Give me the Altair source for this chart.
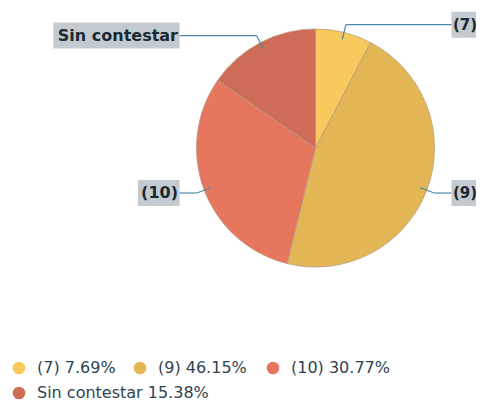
import altair as alt
import pandas as pd

# ---- data ----
categories = ["(7)", "(9)", "(10)", "Sin contestar"]
percentages = [7.69, 46.15, 30.77, 15.38]
colors = ["#F8C95D", "#E4B756", "#E7765F", "#CE6C57"]

# ---- layout (chart pixel coordinates) ----
CX, CY, R = 307.5, 140.0, 119
legend_x = [11, 132, 265, 11]
legend_y = [360, 360, 360, 385]

df = pd.DataFrame({"cat": categories, "pct": percentages, "order": list(range(len(categories)))})
leg_df = pd.DataFrame({"cat": categories, "pct": percentages, "lx": legend_x, "ly": legend_y})

color_scale = alt.Scale(domain=categories, range=colors)

pie = alt.Chart(df).mark_arc(outerRadius=R, stroke="#b99a80", strokeWidth=0.8).encode(
    theta=alt.Theta("pct:Q", stack=True),
    color=alt.Color("cat:N", scale=color_scale, legend=None),
    order=alt.Order("order:Q"),
    x=alt.value(CX),
    y=alt.value(CY),
)

lab = (
    alt.Chart(df)
    .transform_window(cum="sum(pct)", sort=[alt.SortField("order")], frame=[None, 0])
    .transform_joinaggregate(total="sum(pct)")
    .transform_calculate(mid="(datum.cum - datum.pct/2) / datum.total * 2 * PI")
    .transform_calculate(
        ix=f"{CX} + 112*sin(datum.mid)",
        iy=f"{CY} - 112*cos(datum.mid)",
        ex=f"{CX} + 127*sin(datum.mid)",
        ey=f"{CY} - 127*cos(datum.mid)",
        side="sin(datum.mid) >= 0 ? 1 : -1",
    )
    .transform_calculate(
        hx=f"{CX} + datum.side*136",
        tx=f"{CX} + datum.side*137.5",
        bw="length(datum.cat)*9.4 + 4",
    )
    .transform_calculate(bx2="datum.hx + datum.side*datum.bw", by1="datum.ey - 13", by2="datum.ey + 13")
)

line_color = "#4a8aa6"
seg1 = lab.mark_rule(color=line_color, strokeWidth=1.2).encode(
    x=alt.X("ix:Q", scale=None, axis=None), y=alt.Y("iy:Q", scale=None, axis=None),
    x2="ex:Q", y2="ey:Q")
seg2 = lab.mark_rule(color=line_color, strokeWidth=1.2).encode(
    x=alt.X("ex:Q", scale=None, axis=None), y=alt.Y("ey:Q", scale=None, axis=None),
    x2="hx:Q", y2="ey:Q")
box = lab.mark_rect(color="#bcc5cb", opacity=0.9).encode(
    x=alt.X("hx:Q", scale=None, axis=None), x2="bx2:Q",
    y=alt.Y("by1:Q", scale=None, axis=None), y2="by2:Q")
txt_r = lab.transform_filter("datum.side > 0").mark_text(
    align="left", baseline="middle", font="DejaVu Sans", fontWeight="bold", fontSize=15, color="#1b2933"
).encode(x=alt.X("tx:Q", scale=None, axis=None), y=alt.Y("ey:Q", scale=None, axis=None), text="cat:N")
txt_l = lab.transform_filter("datum.side < 0").mark_text(
    align="right", baseline="middle", font="DejaVu Sans", fontWeight="bold", fontSize=16, color="#1b2933"
).encode(x=alt.X("tx:Q", scale=None, axis=None), y=alt.Y("ey:Q", scale=None, axis=None), text="cat:N")

leg = alt.Chart(leg_df).transform_calculate(
    label="datum.cat + ' ' + format(datum.pct, '.2f') + '%'",
    tx="datum.lx + 18",
)
leg_pts = leg.mark_circle(size=160, opacity=1).encode(
    x=alt.X("lx:Q", scale=None, axis=None), y=alt.Y("ly:Q", scale=None, axis=None),
    color=alt.Color("cat:N", scale=color_scale, legend=None))
leg_txt = leg.mark_text(align="left", baseline="middle", font="DejaVu Sans", fontSize=16, color="#2e4450").encode(
    x=alt.X("tx:Q", scale=None, axis=None), y=alt.Y("ly:Q", scale=None, axis=None), text="label:N")

chart = alt.layer(pie, box, seg1, seg2, txt_r, txt_l, leg_pts, leg_txt).properties(
    width=468, height=396, padding=0, autosize=alt.AutoSizeParams(type="none"), background="white"
).configure_view(stroke=None)

chart.save("out.html", embed_options={"renderer": "svg", "actions": False})
